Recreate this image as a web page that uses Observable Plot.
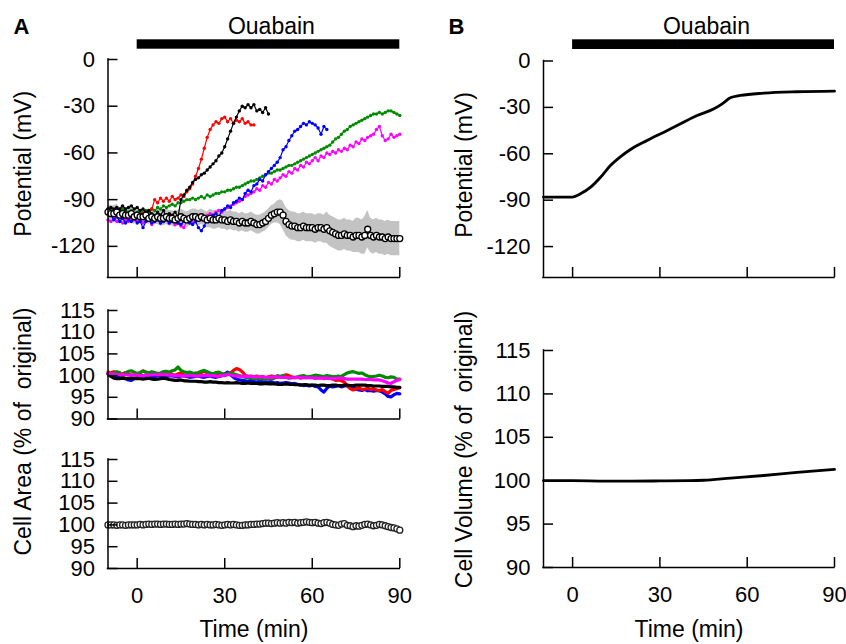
<!DOCTYPE html>
<html><head><meta charset="utf-8">
<script src="https://cdn.jsdelivr.net/npm/d3@7"></script>
<script src="https://cdn.jsdelivr.net/npm/@observablehq/plot@0.6"></script>
<style>
body{margin:0;background:#fff;}
#chart{position:relative;width:846px;height:644px;overflow:hidden;background:#fff;}
#chart svg{position:absolute;left:0;top:0;}
</style></head><body><div id="chart"></div>
<script>
// ---------- data (sampled every 1 min starting at t = -10 min) ----------
const T0 = -10;
const timeTicks = [0, 30, 60, 90];
const potTicks = [-120, -90, -60, -30, 0];
const pctTicks = [90, 95, 100, 105, 110, 115];

// Panel A, membrane potential (mV), individual cells
const potRed = [-98,-99,-98,-100,-99,-98,-100,-99,-101,-100,
  -101,-100,-99,-98,-97,-96,-90,-92,-89,-91,
  -89,-91,-88,-90,-89,-87,-88,-85,-83,-80,
  -75,-70,-64,-57,-50,-45,-42,-40,-41,-38,
  -37,-40,-38,-41,-39,-40,-38,-41,-40,-42,-42];
const potBlack = [-96,-95,-96,-95,-96,-94,-96,-95,-94,-96,
  -95,-97,-96,-98,-97,-99,-103,-98,-100,-97,
  -101,-99,-100,-98,-101,-90,-87,-84,-82,-79,
  -77,-76,-74,-73,-71,-69,-67,-65,-62,-60,
  -56,-51,-46,-41,-37,-33,-30,-31,-29,-31,
  -29,-33,-32,-34,-31,-35];
const potBlue = [-96,-100,-103,-101,-104,-102,-105,-103,-104,-102,
  -105,-104,-108,-104,-103,-105,-104,-103,-105,-104,
  -103,-105,-104,-103,-105,-106,-104,-103,-105,-106,
  -104,-108,-110,-107,-102,-104,-100,-99,-101,-97,
  -96,-94,-95,-92,-91,-89,-90,-86,-84,-85,
  -81,-80,-77,-78,-74,-72,-70,-68,-66,-63,
  -58,-56,-52,-49,-46,-45,-43,-41,-42,-40,
  -41,-42,-44,-48,-43,-45];
const potGreen = [-97,-96,-98,-97,-98,-96,-97,-98,-97,-99,
  -98,-99,-98,-97,-98,-96,-97,-95,-96,-94,
  -95,-94,-93,-94,-92,-92,-91,-90,-90,-89,
  -90,-89,-88,-89,-87,-88,-87,-86,-86,-85,
  -85,-84,-84,-83,-82,-82,-81,-80,-79,-78,
  -78,-77,-76,-75,-74,-73,-73,-72,-71,-71,
  -70,-69,-68,-68,-67,-66,-65,-64,-63,-62,
  -61,-60,-59,-58,-57,-56,-55,-53,-51,-50,
  -48,-46,-45,-43,-42,-41,-40,-39,-38,-37,
  -36,-35,-35,-34,-35,-34,-33,-33,-34,-35,-36];
const potMagenta = [-103,-104,-102,-104,-103,-105,-103,-104,-102,-103,
  -104,-103,-105,-104,-103,-106,-104,-103,-105,-104,
  -103,-105,-104,-106,-105,-107,-108,-104,-103,-105,
  -104,-102,-103,-101,-100,-99,-100,-98,-97,-98,
  -96,-95,-94,-93,-92,-91,-90,-88,-87,-86,
  -85,-83,-84,-81,-82,-79,-80,-77,-78,-76,
  -74,-75,-72,-73,-70,-71,-68,-69,-66,-67,
  -65,-63,-65,-62,-63,-60,-61,-59,-60,-58,
  -59,-57,-58,-55,-56,-53,-54,-51,-52,-50,
  -49,-48,-45,-43,-49,-52,-51,-48,-50,-49,-48];
// Panel A, potential of control cells: mean and SD
const potMean = [-98,-99,-99,-98,-100,-99,-100,-100,-99,-101,
  -100,-101,-101,-100,-102,-101,-102,-101,-102,-102,
  -101,-102,-102,-103,-102,-101,-102,-103,-102,-101,
  -101,-102,-101,-102,-103,-102,-103,-103,-102,-103,
  -103,-104,-103,-104,-104,-105,-104,-105,-105,-104,
  -105,-106,-106,-105,-104,-102,-100,-99,-98,-98,
  -100,-104,-106,-107,-107,-108,-108,-107,-108,-108,
  -108,-109,-108,-108,-109,-108,-110,-111,-112,-113,
  -113,-112,-113,-113,-114,-113,-113,-114,-113,-109,
  -113,-114,-113,-114,-114,-115,-114,-115,-115,-115,-115];
const potSD = [5,5,5,5,5,5,5,5,5,5,
  4,4,4,4,4,4,4,5,5,5,
  5,5,5,5,5,5,5,5,5,5,
  5,5,5,5,5,6,6,6,6,6,
  6,6,6,6,6,6,6,6,6,6,
  6,6,6,6,6,6,6,6,7,8,
  9,9,9,9,9,9,9,9,9,9,
  9,9,9,9,9,10,10,10,10,10,
  10,10,10,10,10,11,11,11,12,12,
  11,11,11,11,11,11,11,11,11,11,11];

// Panel A, cell area (% of original), individual cells
const areaRed = [100.8,100.6,100.9,100.5,100.3,100.4,100.7,100.3,100.1,100.2,
  100.4,100.6,101.1,100.8,100.5,100.6,100.4,100.2,100.3,100.5,
  100.4,100.7,100.3,100.1,100.4,100.6,100.2,100.0,100.1,100.3,
  100.6,100.4,100.7,101.0,100.6,100.3,100.1,99.9,100.2,100.4,
  100.0,100.3,100.6,101.2,101.6,101.4,100.9,100.1,99.8,99.9,
  99.7,99.9,99.6,99.8,99.5,99.7,99.9,99.8,99.6,99.8,
  99.9,100.2,100.0,99.7,99.5,99.6,99.4,99.6,99.5,99.7,
  99.6,99.4,99.5,99.6,99.3,99.5,99.4,99.2,98.9,99.0,
  98.8,98.5,97.6,97.0,96.7,96.9,97.2,96.8,96.9,97.1,
  96.8,97.0,96.7,96.5,96.8,96.3,95.9,96.6,96.8,97.0,97.2];
const areaGreen = [100.4,100.2,100.6,100.9,100.7,99.6,100.6,101.0,101.1,100.8,
  100.5,100.7,101.0,100.8,100.6,100.9,100.7,100.5,100.6,100.9,
  101.0,100.8,101.1,101.3,102.0,101.2,100.9,100.7,100.8,100.6,
  100.5,100.7,101.0,101.2,100.9,100.6,100.4,100.7,100.8,100.5,
  100.3,100.5,100.6,100.4,100.2,100.0,99.8,99.6,99.5,99.4,
  99.3,99.4,99.2,99.3,99.1,99.3,99.2,99.4,100.0,99.8,
  100.0,99.6,99.4,99.5,99.6,99.7,99.9,100.0,99.8,99.7,
  99.9,100.1,100.0,99.9,99.8,100.0,99.9,99.7,99.8,99.9,
  99.8,100.2,100.6,100.8,100.9,100.7,100.5,100.6,100.2,99.9,
  99.7,99.8,99.9,100.1,99.9,99.6,99.5,99.7,99.6,99.2,99.2];
const areaBlue = [100.4,100.0,99.8,99.6,99.8,99.5,99.3,99.0,98.9,99.3,
  99.6,99.8,99.9,100.0,100.1,99.8,99.7,100.0,100.1,99.9,
  99.8,99.9,100.0,99.8,99.7,99.9,100.0,99.8,99.6,99.7,
  99.8,99.9,99.7,99.6,99.8,99.9,99.7,99.6,99.8,100.0,
  100.4,100.8,100.2,99.6,99.2,99.0,98.9,98.8,98.7,98.9,
  98.6,98.5,98.7,98.6,98.4,98.5,98.6,98.3,98.4,98.2,
  98.3,98.4,98.3,98.1,98.2,98.0,97.9,97.7,97.8,97.6,
  97.8,97.5,97.4,96.7,96.2,97.1,97.6,97.4,97.5,97.7,
  97.4,97.6,97.7,97.5,97.3,96.9,96.7,96.6,96.8,96.5,
  96.6,96.4,96.6,96.5,96.2,95.8,95.2,95.1,95.6,95.9,95.8];
const areaBlack = [100.4,99.8,99.4,99.3,99.3,99.4,99.3,99.3,99.4,99.3,
  99.3,99.3,99.2,99.3,99.4,99.2,99.1,99.2,99.3,99.4,
  99.3,99.1,99.0,98.9,98.9,99.0,98.8,98.8,98.7,98.7,
  98.7,98.6,98.6,98.5,98.5,98.6,98.5,98.5,98.4,98.4,
  98.3,98.4,98.3,98.3,98.4,98.3,98.2,98.2,98.3,98.2,
  98.2,98.2,98.1,98.1,98.2,98.1,98.1,98.1,98.0,98.0,
  98.0,98.1,98.0,98.0,97.9,97.9,97.8,97.9,97.9,97.8,
  97.8,97.8,97.7,97.8,97.8,97.7,97.7,97.8,97.8,97.7,
  97.7,97.8,97.8,97.7,97.7,97.8,97.8,97.8,97.8,97.7,
  97.7,97.6,97.6,97.6,97.5,97.5,97.5,97.4,97.4,97.3,97.3];
const areaMagenta = [100.4,100.4,100.3,100.3,100.2,100.2,100.2,100.1,100.1,100.1,
  100.1,100.0,100.0,100.1,100.1,100.2,100.2,100.2,100.3,100.2,
  100.2,100.1,100.1,100.0,100.0,100.0,99.9,100.0,100.0,100.0,
  99.9,99.9,100.0,100.0,100.1,100.0,100.0,99.9,99.9,100.0,
  100.1,100.2,100.2,100.0,99.9,99.9,99.8,99.8,99.8,99.8,
  99.7,99.7,99.7,99.7,99.6,99.6,99.6,99.7,99.7,99.6,
  99.6,99.6,99.5,99.5,99.5,99.6,99.6,99.5,99.5,99.5,
  99.5,99.4,99.4,99.4,99.4,99.4,99.3,99.3,99.3,99.4,
  99.4,99.3,99.2,99.2,99.2,99.2,99.2,99.2,99.1,99.1,
  99.1,99.0,99.0,99.0,98.8,98.6,98.3,98.2,98.6,98.9,99.1];
// Panel A, cell area of control cells: mean and SD
const areaMean = [100.0,100.0,100.0,99.9,100.0,100.0,99.9,100.0,100.0,100.0,
  100.0,100.1,100.0,100.1,100.2,100.1,100.2,100.2,100.1,100.2,
  100.2,100.1,100.1,100.2,100.1,100.2,100.2,100.3,100.2,100.1,
  100.1,100.0,100.1,100.0,100.1,100.0,100.0,100.1,100.0,99.9,
  100.0,100.1,100.0,100.1,100.0,99.9,99.9,100.0,100.0,100.1,
  100.1,100.2,100.2,100.3,100.4,100.4,100.3,100.4,100.5,100.4,
  100.5,100.4,100.6,100.5,100.6,100.4,100.5,100.6,100.7,100.6,
  100.5,100.6,100.4,100.3,100.5,100.6,100.4,100.1,100.0,99.9,
  100.2,100.3,99.9,99.8,99.6,99.8,99.7,99.9,100.1,100.2,
  100.0,99.8,99.9,100.1,100.0,99.8,99.6,99.4,99.3,99.1,98.8];
const areaSD = [0.3,0.3,0.3,0.3,0.3,0.3,0.3,0.3,0.3,0.3,
  0.3,0.3,0.3,0.3,0.3,0.3,0.3,0.3,0.3,0.3,
  0.3,0.3,0.3,0.3,0.3,0.3,0.3,0.3,0.3,0.3,
  0.3,0.3,0.3,0.3,0.3,0.3,0.3,0.3,0.3,0.3,
  0.3,0.3,0.3,0.3,0.3,0.3,0.3,0.3,0.3,0.3,
  0.4,0.4,0.4,0.4,0.4,0.4,0.4,0.4,0.4,0.4,
  0.4,0.4,0.4,0.4,0.4,0.5,0.5,0.5,0.5,0.5,
  0.6,0.6,0.6,0.6,0.6,0.6,0.6,0.6,0.6,0.6,
  0.6,0.6,0.6,0.6,0.6,0.6,0.6,0.6,0.6,0.6,
  0.6,0.6,0.6,0.6,0.6,0.6,0.6,0.6,0.6,0.6,0.6];

// Panel B, model
const modelPotTime = [-10, 0, 2.7, 6.2, 9.6, 13, 16.5, 19.9, 25.6, 31.4, 37.1, 42.8, 48.6, 51.4, 54.2, 57.7, 65.7, 77.1, 90];
const modelPot = [-88, -88, -85.9, -81.6, -75.2, -67.6, -61.8, -57.2, -51.4, -46, -40.6, -35.3, -30.9, -27.7, -23.8, -22.3, -20.8, -19.9, -19.5];
const modelVolTime = [-10, 0, 10, 20, 30, 40, 45, 54.3, 65.7, 77.1, 90];
const modelVol = [100, 100, 99.96, 99.95, 99.97, 100.0, 100.05, 100.3, 100.6, 100.95, 101.3];

// ---------- helpers ----------
const series = (vals, extra) => vals.map((v, i) => ({t: T0 + i, v, s: extra ? extra[i] : 0}));
const pairs = (ts, vs) => ts.map((t, i) => ({t, v: vs[i]}));
const W = 846, H = 644;
const FONT = "'Liberation Sans', Arial, Helvetica, sans-serif";
const AX = 1.5;

function panel({left, right, top, bottom, yDomain, yTicks, xLabels, marks}) {
  const fw = right - left, fh = bottom - top;
  const svg = Plot.plot({
    width: W, height: H,
    marginLeft: left, marginRight: W - right, marginTop: top, marginBottom: H - bottom,
    x: {domain: [-10, 90], axis: null},
    y: {domain: yDomain, axis: null},
    style: {background: "transparent", overflow: "visible", fontFamily: FONT, color: "black"},
    marks: [
      ...marks,
      Plot.ruleX([-10], {x: d => d, stroke: "black", strokeWidth: AX, strokeLinecap: "square"}),
      Plot.ruleY([yDomain[0]], {y: d => d, stroke: "black", strokeWidth: AX, strokeLinecap: "square"}),
      Plot.tickX(timeTicks, {x: d => d, insetTop: fh - 10, stroke: "black", strokeWidth: AX}),
      Plot.tickY(yTicks, {y: d => d, insetRight: fw - 10, stroke: "black", strokeWidth: AX}),
      Plot.text(yTicks, {y: d => d, text: d => String(d), frameAnchor: "left", dx: -13, textAnchor: "end", lineAnchor: "middle", fontSize: 22, fill: "black"}),
      xLabels ? Plot.text(timeTicks, {x: d => d, text: d => String(d), frameAnchor: "bottom", dy: 19, lineAnchor: "top", fontSize: 22, fill: "black"}) : null
    ]
  });
  document.getElementById("chart").appendChild(svg);
}

const ylabel = (txt, anchor, dx, dy) => Plot.text([txt], {text: d => d, frameAnchor: anchor, dx, dy, rotate: -90, textAnchor: "middle", lineAnchor: "middle", fontSize: 23, fill: "black"});
const ouabain = (insetTop, insetBottom, dy) => [
  Plot.barX([{a: 0, b: 90}], {x1: "a", x2: "b", insetTop, insetBottom, fill: "black"}),
  Plot.text(["Ouabain"], {x: () => 46, text: d => d, frameAnchor: "top", dy, lineAnchor: "bottom", fontSize: 23, fill: "black"})
];
const letter = (L, dx, dy) => Plot.text([L], {text: d => d, frameAnchor: "top-left", dx, dy, textAnchor: "start", lineAnchor: "bottom", fontSize: 22, fontWeight: "bold", fill: "black"});

const colored = [
  ["#008a00", potGreen],
  ["#ff00ff", potMagenta],
  ["#0000ff", potBlue],
  ["#ff0000", potRed],
  ["#000000", potBlack]
];

// ---------- A top: potential ----------
const ctrlPot = series(potMean, potSD);
panel({
  left: 107.5, right: 399.3, top: 59, bottom: 277,
  yDomain: [-140, 0], yTicks: potTicks, xLabels: false,
  marks: [
    Plot.areaY(ctrlPot, {x: "t", y1: d => d.v - d.s, y2: d => d.v + d.s, fill: "#c3c3c3"}),
    ...colored.flatMap(([c, vals]) => {
      const d = series(vals);
      return [
        Plot.line(d, {x: "t", y: "v", stroke: c, strokeWidth: 1.2}),
        Plot.dot(d, {x: "t", y: "v", r: 1.7, fill: c, stroke: "none"})
      ];
    }),
    Plot.dot(ctrlPot, {x: "t", y: "v", r: 3, fill: "white", stroke: "black", strokeWidth: 1.3}),
    ...ouabain(-19.7, 228.3, -26),
    letter("A", -94.5, -26),
    ylabel("Potential (mV)", "left", -84.5, -4.7)
  ]
});

// ---------- A middle: cell area, individual cells ----------
const areaOrder = [
  ["#0000ff", areaBlue], ["#ff0000", areaRed], ["#008a00", areaGreen],
  ["#000000", areaBlack], ["#ff00ff", areaMagenta]
];
panel({
  left: 107.5, right: 399.3, top: 310, bottom: 418.5,
  yDomain: [90, 115], yTicks: pctTicks, xLabels: false,
  marks: [
    ...areaOrder.map(([c, vals]) => Plot.line(series(vals), {x: "t", y: "v", stroke: c, strokeWidth: 3.2, strokeLinejoin: "round"})),
    ylabel("Cell Area (% of  original)", "bottom-left", -84.5, 12.5)
  ]
});

// ---------- A bottom: cell area, control ----------
const ctrlArea = series(areaMean, areaSD);
panel({
  left: 107.5, right: 399.3, top: 459, bottom: 568,
  yDomain: [90, 115], yTicks: pctTicks, xLabels: true,
  marks: [
    Plot.areaY(ctrlArea, {x: "t", y1: d => d.v - d.s, y2: d => d.v + d.s, fill: "#b5b5b5"}),
    Plot.dot(ctrlArea, {x: "t", y: "v", r: 3, fill: "white", stroke: "#222", strokeWidth: 1.3}),
    Plot.text(["Time (min)"], {text: d => d, frameAnchor: "bottom", dy: 68.5, lineAnchor: "bottom", fontSize: 23, fill: "black"})
  ]
});

// ---------- B top: model potential ----------
panel({
  left: 543, right: 834, top: 60.5, bottom: 277,
  yDomain: [-140, 0], yTicks: potTicks, xLabels: false,
  marks: [
    Plot.line(pairs(modelPotTime, modelPot), {x: "t", y: "v", stroke: "black", strokeWidth: 2.8, curve: "monotone-x"}),
    ...ouabain(-21.2, 228, -27.5),
    letter("B", -95, -27.5),
    ylabel("Potential (mV)", "left", -79, -4.3)
  ]
});

// ---------- B bottom: model cell volume ----------
panel({
  left: 543, right: 834, top: 350, bottom: 567,
  yDomain: [90, 115], yTicks: pctTicks, xLabels: true,
  marks: [
    Plot.line(pairs(modelVolTime, modelVol), {x: "t", y: "v", stroke: "black", strokeWidth: 2.8, curve: "monotone-x"}),
    ylabel("Cell Volume (% of  original)", "left", -79, -9.5),
    Plot.text(["Time (min)"], {text: d => d, frameAnchor: "bottom", dy: 69.5, lineAnchor: "bottom", fontSize: 23, fill: "black"})
  ]
});
</script></body></html>
